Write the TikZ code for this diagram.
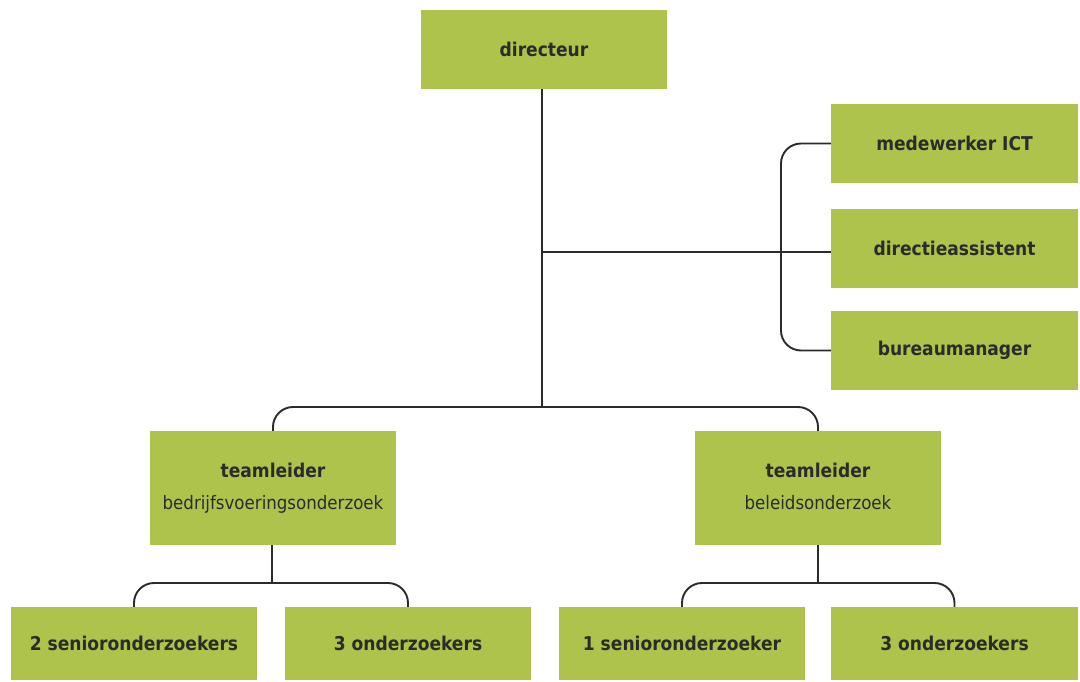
\documentclass[tikz,border=0pt]{standalone}
\usepackage{fontspec}
\setmainfont{DejaVu Sans Condensed}[BoldFont={DejaVu Sans Condensed Bold}]
\definecolor{boxgreen}{HTML}{AEC34C}
\definecolor{ink}{HTML}{2B2B2B}
\newcommand{\subline}[1]{{\fontsize{18.5}{22}\mdseries\selectfont #1\vphantom{jg}}}
\begin{document}
\begin{tikzpicture}[x=1pt,y=-1pt,
  box/.style={fill=boxgreen,draw=none,minimum width=246pt,inner sep=0pt,text=ink,font=\fontsize{19}{22}\selectfont\bfseries},
  onebox/.style={box,minimum height=79pt},
  lowbox/.style={box,minimum height=73pt},
  teambox/.style={box,minimum height=114pt,align=center},
  conn/.style={draw=ink,line width=1.9pt,rounded corners=20pt}]
\useasboundingbox (0,0) rectangle (1080,681);
\node[onebox] (dir) at (544,49.5) {directeur};
\node[onebox,minimum width=247pt] (ict) at (954.5,143.5) {medewerker ICT};
\node[onebox,minimum width=247pt] (da) at (954.5,248.5) {directieassistent};
\node[onebox,minimum width=247pt] (bm) at (954.5,350.5) {bureaumanager};
\node[teambox] (tl1) at (273,488) {teamleider\\[10pt]\subline{bedrijfsvoeringsonderzoek}};
\node[teambox] (tl2) at (818,488) {teamleider\\[10pt]\subline{beleidsonderzoek}};
\node[lowbox] (s1) at (134,643.5) {2 senioronderzoekers};
\node[lowbox] (o1) at (408,643.5) {3 onderzoekers};
\node[lowbox] (s2) at (682,643.5) {1 senioronderzoeker};
\node[lowbox,minimum width=247pt] (o2) at (954.5,643.5) {3 onderzoekers};
\coordinate (jt) at (542,407);
\coordinate (jm) at (542,252);
\coordinate (jl) at (272,583);
\coordinate (jr) at (818,583);
% main trunk
\draw[conn,rounded corners=0pt] (dir.south -| jt) -- (jt);
\draw[conn,rounded corners=0pt] (jm) -- (jm -| da.west);
% staff bracket
\draw[conn] (ict.west) -- (781,143.5) -- (781,350.5) -- (bm.west);
% team bracket
\draw[conn] (tl1.north) -- (273,407) -- (818,407) -- (tl2.north);
% left team
\draw[conn,rounded corners=0pt] (tl1.south -| jl) -- (jl);
\draw[conn] (s1.north) -- (134,583) -- (408,583) -- (o1.north);
% right team
\draw[conn,rounded corners=0pt] (tl2.south) -- (jr);
\draw[conn] (s2.north) -- (682,583) -- (954.5,583) -- (o2.north);
\end{tikzpicture}
\end{document}
